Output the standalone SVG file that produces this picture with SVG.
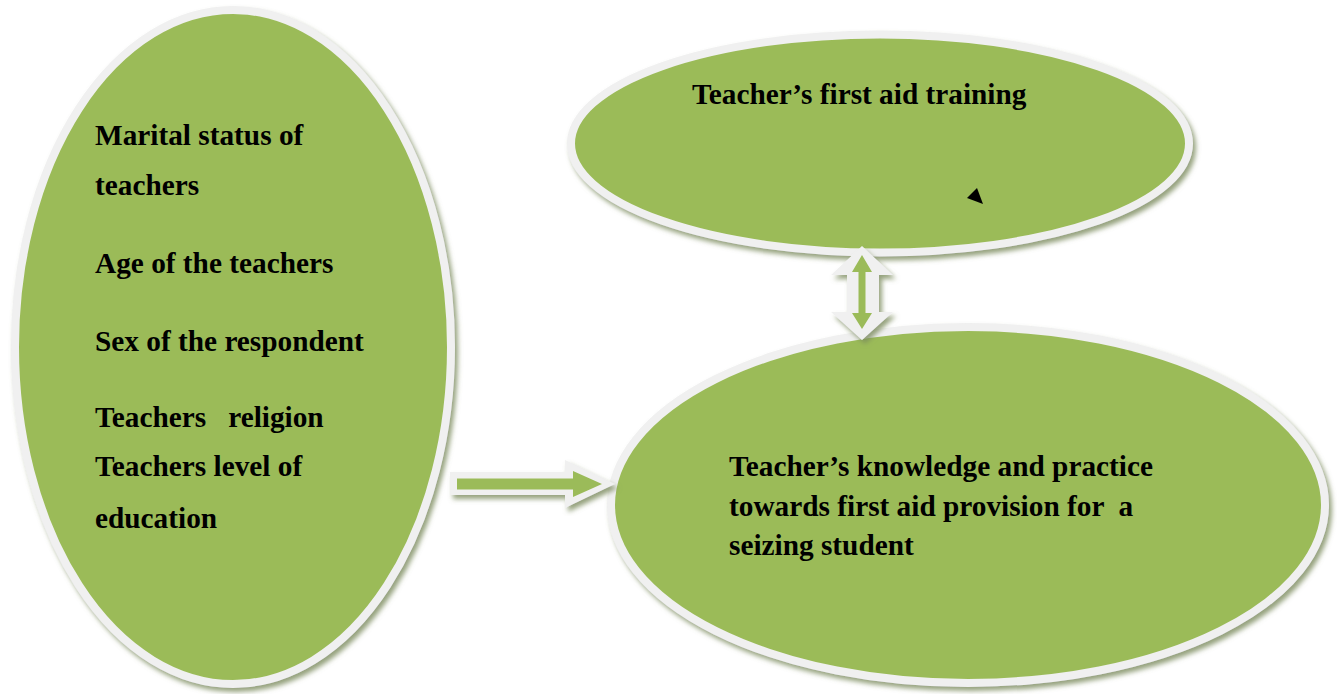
<svg xmlns="http://www.w3.org/2000/svg" width="1337" height="694" viewBox="0 0 1337 694">
<defs>
<filter id="sh" x="-10%" y="-10%" width="125%" height="125%">
<feDropShadow dx="3" dy="4" stdDeviation="2.5" flood-color="#7a8a5c" flood-opacity="0.8"/>
</filter>
<style>
.node{fill:#9BBB59;stroke:#F0F0F0;stroke-width:8;filter:url(#sh)}
.lbl{font-family:"Liberation Serif","Times New Roman",serif;font-weight:bold;font-size:29.3px;fill:#000;white-space:pre}
.aw{fill:#F0F0F0;filter:url(#sh)}
.ag{fill:#9BBB59}
</style>
</defs>
<rect width="1337" height="694" fill="#FFFFFF"/>
<g id="node-factors">
<ellipse class="node" cx="233" cy="347" rx="218" ry="337"/>
<text class="lbl" x="95" y="145">Marital status of</text>
<text class="lbl" x="95" y="195">teachers</text>
<text class="lbl" x="95" y="273">Age of the teachers</text>
<text class="lbl" x="95" y="351">Sex of the respondent</text>
<text class="lbl" x="95" y="427" xml:space="preserve">Teachers   religion</text>
<text class="lbl" x="95" y="476">Teachers level of</text>
<text class="lbl" x="95" y="528">education</text>
</g>
<g id="node-training">
<ellipse class="node" cx="880" cy="143.5" rx="309" ry="109"/>
<text class="lbl" x="692" y="104">Teacher’s first aid training</text>
<polygon points="967,198 977,188 983,204" fill="#000"/>
</g>
<g id="node-outcome">
<ellipse class="node" cx="968" cy="505" rx="357" ry="178"/>
<text class="lbl" x="729" y="476">Teacher’s knowledge and practice</text>
<text class="lbl" x="729" y="516" xml:space="preserve">towards first aid provision for  a</text>
<text class="lbl" x="729" y="555">seizing student</text>
</g>
<g id="connectors">
<g id="arrow-double">
<polygon class="aw" points="862,246 893,275 879,275 879,312 893,312 862,340 831,312 847,312 847,275 831,275"/>
<polygon class="ag" points="862,255 872,272 865.5,272 865.5,313 872,313 862,329 852,313 858.5,313 858.5,272 852,272"/>
</g>
<g id="arrow-right">
<polygon class="aw" points="450,472 565,472 565,460 615,484 565,508 565,495 450,495"/>
<polygon class="ag" points="457,478.5 573,478.5 573,471 602,484 573,497 573,489.5 457,489.5"/>
</g>
</g>
</svg>
